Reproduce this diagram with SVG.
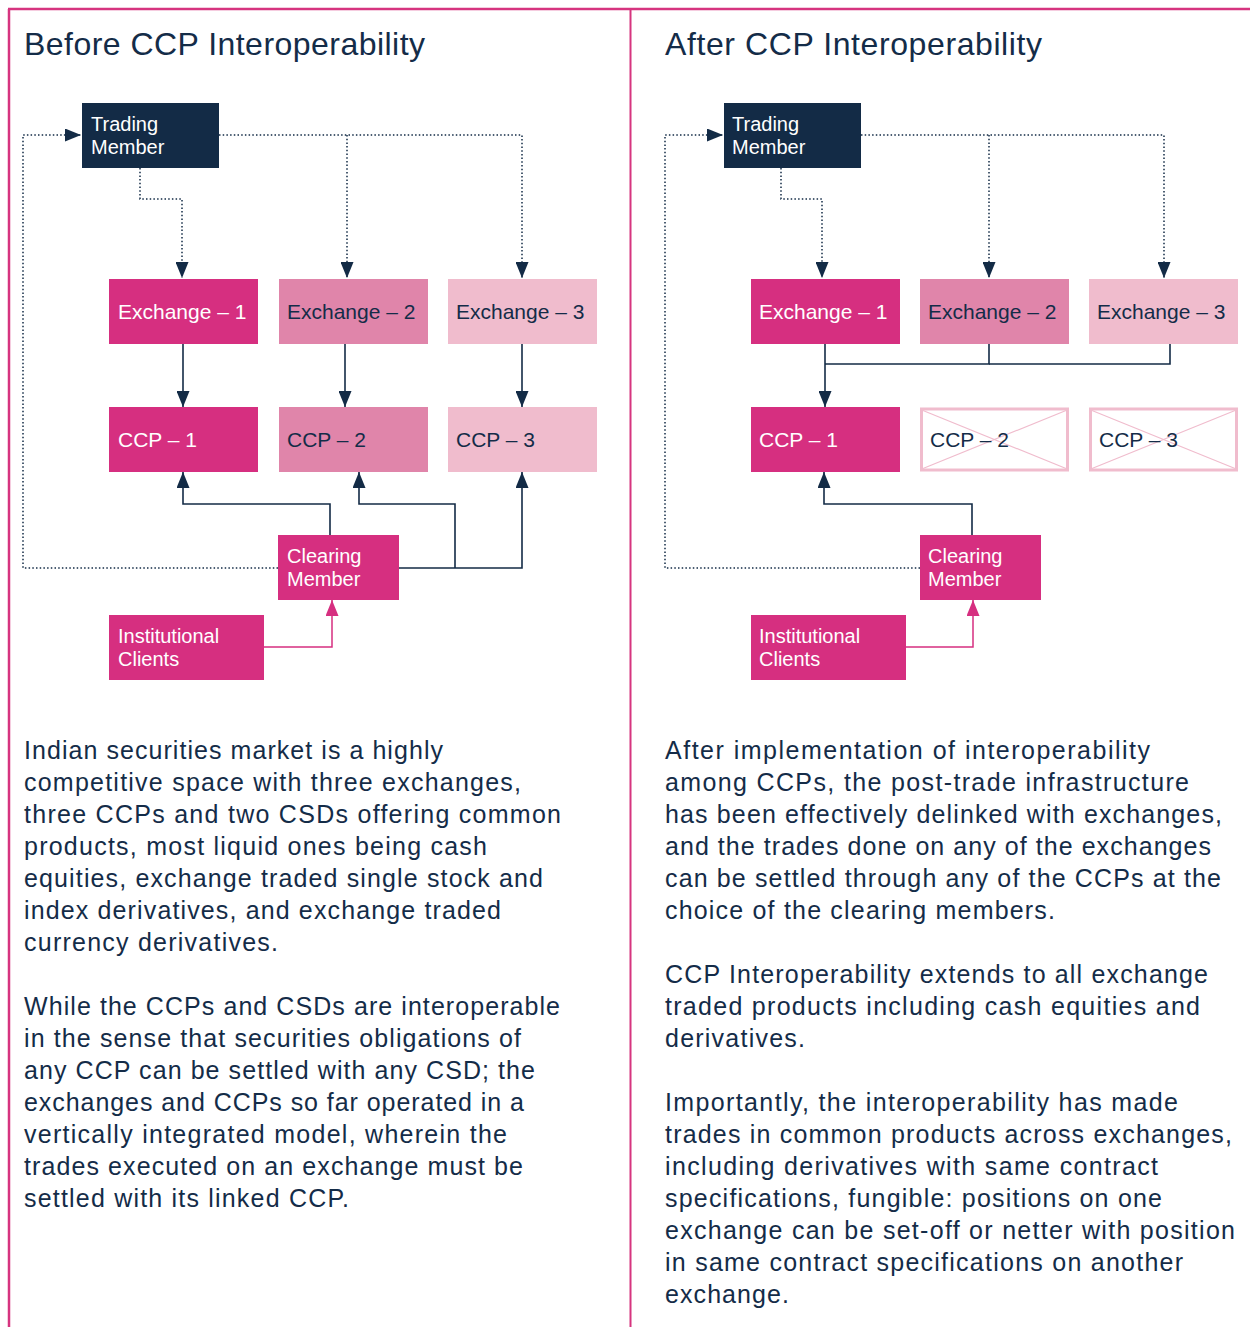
<svg xmlns="http://www.w3.org/2000/svg" width="1250" height="1327" viewBox="0 0 1250 1327">
<style>
.t{font-family:"Liberation Sans",Arial,sans-serif;fill:#142c48}
.title{font-size:32px}
.body{font-size:25px}
.lbl{font-size:21px}
.lbl2{font-size:20px}
.w{fill:#ffffff}
.m{fill:#d62f80}
.p2{fill:#e085aa}
.p3{fill:#f0bccd}
.nv{fill:#132b46}
.dot{fill:none;stroke:#132b46;stroke-width:1.5;stroke-dasharray:1.5 2.2}
.sol{fill:none;stroke:#132b46;stroke-width:1.6}
.pk{fill:none;stroke:#d62f80;stroke-width:1.5}
.x{fill:#fff;stroke:#f0bccd;stroke-width:3}
.xd{stroke:#f0bccd;stroke-width:1.2}
</style>
<defs>
<marker id="a" markerUnits="userSpaceOnUse" markerWidth="16" markerHeight="13" refX="16" refY="6.5" orient="auto"><path d="M0,0 L16,6.5 L0,13 z" fill="#132b46"/></marker>
<marker id="ap" markerUnits="userSpaceOnUse" markerWidth="16" markerHeight="13" refX="16" refY="6.5" orient="auto"><path d="M0,0 L16,6.5 L0,13 z" fill="#d62f80"/></marker>
</defs>
<rect width="1250" height="1327" fill="#fff"/>
<g id="frame">
<line x1="8" y1="9" x2="1250" y2="9" stroke="#d6347f" stroke-width="2.5"/>
<line x1="9" y1="9" x2="9" y2="1327" stroke="#d6347f" stroke-width="2.5"/>
<line x1="630.5" y1="9" x2="630.5" y2="1327" stroke="#d6347f" stroke-width="2"/>
</g>
<text class="t title" x="24" y="55" textLength="401">Before CCP Interoperability</text>
<text class="t title" x="665" y="55" textLength="377">After CCP Interoperability</text>

<g id="connectors">
<path class="dot" d="M278,568 H23 V135 H81" marker-end="url(#a)"/>
<path class="dot" d="M219,135 H522 V278" marker-end="url(#a)"/>
<path class="dot" d="M347,135 V278" marker-end="url(#a)"/>
<path class="dot" d="M140,168 V199 H182 V278" marker-end="url(#a)"/>
<path class="sol" d="M183,344 V407" marker-end="url(#a)"/>
<path class="sol" d="M345,344 V407" marker-end="url(#a)"/>
<path class="sol" d="M522,344 V407" marker-end="url(#a)"/>
<path class="sol" d="M330,535 V504 H183 V472" marker-end="url(#a)"/>
<path class="sol" d="M398,568 H522 V472" marker-end="url(#a)"/>
<path class="sol" d="M455,568 V504 H359 V472" marker-end="url(#a)"/>
<path class="pk" d="M264,647 H332 V600" marker-end="url(#ap)"/>

<path class="dot" d="M920,568 H665 V135 H723" marker-end="url(#a)"/>
<path class="dot" d="M861,135 H1164 V278" marker-end="url(#a)"/>
<path class="dot" d="M989,135 V278" marker-end="url(#a)"/>
<path class="dot" d="M781,168 V199 H822 V278" marker-end="url(#a)"/>
<path class="sol" d="M825,344 V407" marker-end="url(#a)"/>
<path class="sol" d="M989,344 V364 H825"/>
<path class="sol" d="M1170,344 V364 H989"/>
<path class="sol" d="M972,535 V504 H824 V472" marker-end="url(#a)"/>
<path class="pk" d="M906,647 H973 V600" marker-end="url(#ap)"/>
</g>

<g id="L-trading"><rect class="nv" x="82" y="103" width="137" height="65"/><text class="t lbl2 w" x="91" y="131">Trading</text><text class="t lbl2 w" x="91" y="154">Member</text></g>
<g id="L-ex1"><rect class="m" x="109" y="279" width="149" height="65"/><text class="t lbl w" x="118" y="319">Exchange – 1</text></g>
<g id="L-ex2"><rect class="p2" x="279" y="279" width="149" height="65"/><text class="t lbl" x="287" y="319">Exchange – 2</text></g>
<g id="L-ex3"><rect class="p3" x="448" y="279" width="149" height="65"/><text class="t lbl" x="456" y="319">Exchange – 3</text></g>
<g id="L-ccp1"><rect class="m" x="109" y="407" width="149" height="65"/><text class="t lbl w" x="118" y="447">CCP – 1</text></g>
<g id="L-ccp2"><rect class="p2" x="279" y="407" width="149" height="65"/><text class="t lbl" x="287" y="447">CCP – 2</text></g>
<g id="L-ccp3"><rect class="p3" x="448" y="407" width="149" height="65"/><text class="t lbl" x="456" y="447">CCP – 3</text></g>
<g id="L-clearing"><rect class="m" x="278" y="535" width="121" height="65"/><text class="t lbl2 w" x="287" y="563">Clearing</text><text class="t lbl2 w" x="287" y="586">Member</text></g>
<g id="L-inst"><rect class="m" x="109" y="615" width="155" height="65"/><text class="t lbl2 w" x="118" y="643">Institutional</text><text class="t lbl2 w" x="118" y="666">Clients</text></g>

<g id="R-trading"><rect class="nv" x="724" y="103" width="137" height="65"/><text class="t lbl2 w" x="732" y="131">Trading</text><text class="t lbl2 w" x="732" y="154">Member</text></g>
<g id="R-ex1"><rect class="m" x="751" y="279" width="149" height="65"/><text class="t lbl w" x="759" y="319">Exchange – 1</text></g>
<g id="R-ex2"><rect class="p2" x="920" y="279" width="149" height="65"/><text class="t lbl" x="928" y="319">Exchange – 2</text></g>
<g id="R-ex3"><rect class="p3" x="1089" y="279" width="149" height="65"/><text class="t lbl" x="1097" y="319">Exchange – 3</text></g>
<g id="R-ccp1"><rect class="m" x="751" y="407" width="149" height="65"/><text class="t lbl w" x="759" y="447">CCP – 1</text></g>
<g id="R-ccp2"><rect class="x" x="921.5" y="409" width="146" height="61"/><line class="xd" x1="923" y1="410.5" x2="1066" y2="468.5"/><line class="xd" x1="923" y1="468.5" x2="1066" y2="410.5"/><text class="t lbl" x="930" y="447">CCP – 2</text></g>
<g id="R-ccp3"><rect class="x" x="1090.5" y="409" width="146" height="61"/><line class="xd" x1="1092" y1="410.5" x2="1235" y2="468.5"/><line class="xd" x1="1092" y1="468.5" x2="1235" y2="410.5"/><text class="t lbl" x="1099" y="447">CCP – 3</text></g>
<g id="R-clearing"><rect class="m" x="920" y="535" width="121" height="65"/><text class="t lbl2 w" x="928" y="563">Clearing</text><text class="t lbl2 w" x="928" y="586">Member</text></g>
<g id="R-inst"><rect class="m" x="751" y="615" width="155" height="65"/><text class="t lbl2 w" x="759" y="643">Institutional</text><text class="t lbl2 w" x="759" y="666">Clients</text></g>

<g id="L-text" class="t body">
<text x="24" y="759" textLength="419">Indian securities market is a highly</text>
<text x="24" y="791" textLength="497">competitive space with three exchanges,</text>
<text x="24" y="823" textLength="537">three CCPs and two CSDs offering common</text>
<text x="24" y="855" textLength="463">products, most liquid ones being cash</text>
<text x="24" y="887" textLength="519">equities, exchange traded single stock and</text>
<text x="24" y="919" textLength="477">index derivatives, and exchange traded</text>
<text x="24" y="951" textLength="254">currency derivatives.</text>
<text x="24" y="1015" textLength="536">While the CCPs and CSDs are interoperable</text>
<text x="24" y="1047" textLength="497">in the sense that securities obligations of</text>
<text x="24" y="1079" textLength="511">any CCP can be settled with any CSD; the</text>
<text x="24" y="1111" textLength="500">exchanges and CCPs so far operated in a</text>
<text x="24" y="1143" textLength="483">vertically integrated model, wherein the</text>
<text x="24" y="1175" textLength="499">trades executed on an exchange must be</text>
<text x="24" y="1207" textLength="325">settled with its linked CCP.</text>
</g>
<g id="R-text" class="t body">
<text x="665" y="759" textLength="485">After implementation of interoperability</text>
<text x="665" y="791" textLength="524">among CCPs, the post-trade infrastructure</text>
<text x="665" y="823" textLength="557">has been effectively delinked with exchanges,</text>
<text x="665" y="855" textLength="546">and the trades done on any of the exchanges</text>
<text x="665" y="887" textLength="556">can be settled through any of the CCPs at the</text>
<text x="665" y="919" textLength="390">choice of the clearing members.</text>
<text x="665" y="983" textLength="543">CCP Interoperability extends to all exchange</text>
<text x="665" y="1015" textLength="535">traded products including cash equities and</text>
<text x="665" y="1047" textLength="140">derivatives.</text>
<text x="665" y="1111" textLength="513">Importantly, the interoperability has made</text>
<text x="665" y="1143" textLength="567">trades in common products across exchanges,</text>
<text x="665" y="1175" textLength="493">including derivatives with same contract</text>
<text x="665" y="1207" textLength="497">specifications, fungible: positions on one</text>
<text x="665" y="1239" textLength="570">exchange can be set-off or netter with position</text>
<text x="665" y="1271" textLength="518">in same contract specifications on another</text>
<text x="665" y="1303" textLength="124">exchange.</text>
</g>
</svg>
